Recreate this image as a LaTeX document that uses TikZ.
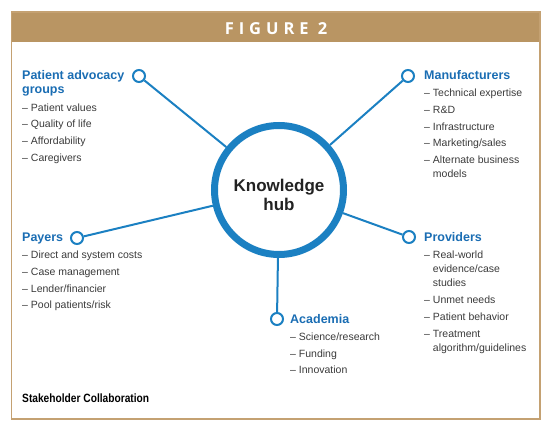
\documentclass[tikz,border=0pt]{standalone}
\usepackage{fontspec}
\setmainfont{Liberation Sans}
\newfontfamily\headfont[LetterSpace=30]{Open Sans}
\newfontfamily\capfont[FakeStretch=0.85]{Liberation Sans}
\usepackage{xcolor}
\usepackage{tikz}
\usetikzlibrary{positioning}
\definecolor{khTan}{HTML}{B99563}
\definecolor{khTanLine}{HTML}{C4A172}
\definecolor{khBlue}{HTML}{1B80C2}
\definecolor{khTitle}{HTML}{1A6DB3}
\definecolor{khText}{HTML}{3A3A3A}
\definecolor{khDark}{HTML}{222222}
\tikzset{
  hub circle/.style={circle, draw=khBlue, line width=7pt, fill=white,
    minimum size=129pt, inner sep=0pt},
  hub label/.style={align=center, inner sep=0pt, text=khDark,
    font=\fontsize{17}{19}\selectfont\bfseries},
  stake dot/.style={circle, draw=khBlue, line width=2pt, fill=white,
    minimum size=12pt, inner sep=0pt},
  spoke/.style={draw=khBlue, line width=2pt},
  stake text/.style={anchor=north west, inner sep=0pt, align=left,
    text=khText, font=\fontsize{10.5}{14}\selectfont},
  fig title/.style={text=white, inner sep=0pt,
    font=\headfont\fontsize{16.5}{18}\selectfont\bfseries},
  fig caption/.style={anchor=base west, inner sep=0pt, text=black,
    font=\capfont\fontsize{12}{14}\selectfont\bfseries}
}
\newcommand{\sttitle}[1]{{\fontsize{12.5}{14}\selectfont\bfseries\color{khTitle}#1}}
\newcommand{\stgap}{\phantom{\textendash~}}

\begin{document}
\begin{tikzpicture}[x=1pt, y=-1pt]
  \useasboundingbox (0,0) rectangle (550,428);
  \fill[khTan] (11.5,12) rectangle (540,42);
  \draw[khTanLine, line width=1.5pt] (11.5,12) rectangle (540,419);
  \node[fig title] (fig) at (276,29) {FIGURE 2};

  \node[hub circle] (hub) at (279,190) {};
  \node[hub label] (hubtext) at ([yshift=-5.3pt]hub.center) {Knowledge\\hub};

  \node[stake dot] (pat) at (139,76) {};
  \node[stake dot] (man) at (408,76) {};
  \node[stake dot] (pay) at (77,238) {};
  \node[stake dot] (pro) at (409,237) {};
  \node[stake dot] (aca) at (277,319) {};
  \draw[spoke] (pat) -- (hub);
  \draw[spoke] (man) -- (hub);
  \draw[spoke] (pay) -- (hub);
  \draw[spoke] (pro) -- (hub);
  \draw[spoke] (aca) -- (hub);

  \node[stake text] (pattext) at (22,70.5)
    {\sttitle{Patient advocacy}\\\sttitle{groups}\\[3.5pt]
     \textendash~Patient values\\[2.6pt]
     \textendash~Quality of life\\[2.6pt]
     \textendash~Affordability\\[2.6pt]
     \textendash~Caregivers};
  \node[stake text] (mantext) at (424,70.5)
    {\sttitle{Manufacturers}\\[3pt]
     \textendash~Technical expertise\\[2.7pt]
     \textendash~R\&D\\[2.7pt]
     \textendash~Infrastructure\\[2.7pt]
     \textendash~Marketing/sales\\[2.7pt]
     \textendash~Alternate business\\
     \stgap models};
  \node[stake text] (paytext) at (22,233)
    {\sttitle{Payers}\\[3pt]
     \textendash~Direct and system costs\\[2.7pt]
     \textendash~Case management\\[2.7pt]
     \textendash~Lender/financier\\[2.7pt]
     \textendash~Pool patients/risk};
  \node[stake text] (protext) at (424,232.7)
    {\sttitle{Providers}\\[3pt]
     \textendash~Real-world\\
     \stgap evidence/case\\
     \stgap studies\\[2.7pt]
     \textendash~Unmet needs\\[2.7pt]
     \textendash~Patient behavior\\[2.7pt]
     \textendash~Treatment\\
     \stgap algorithm/guidelines};
  \node[stake text] (acatext) at (290,314.3)
    {\sttitle{Academia}\\[3pt]
     \textendash~Science/research\\[2.7pt]
     \textendash~Funding\\[2.7pt]
     \textendash~Innovation};

  \node[fig caption] (cap) at (22,402) {Stakeholder Collaboration};
\end{tikzpicture}
\end{document}
